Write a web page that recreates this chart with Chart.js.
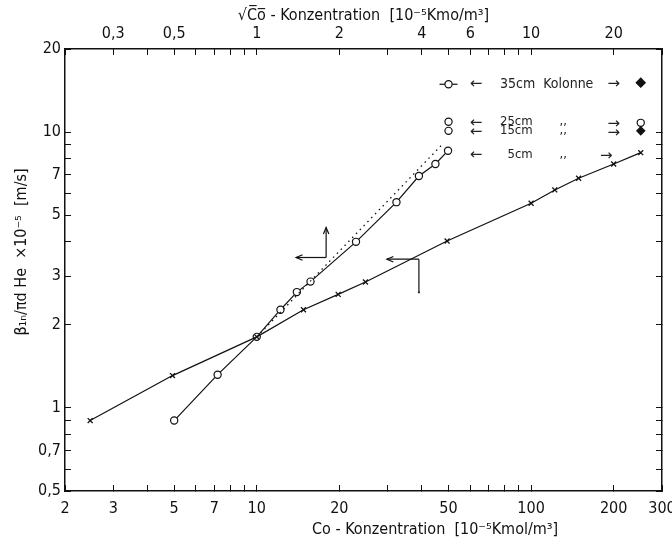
<!DOCTYPE html>
<html>
<head>
<meta charset="utf-8">
<script src="https://cdn.jsdelivr.net/npm/chart.js@4"></script>
<style>
  html, body { margin: 0; padding: 0; background: #fff; }
  #chart { display: block; }
</style>
</head>
<body>
<canvas id="chart" width="672" height="544"></canvas>
<script>
// values (Co concentration vs. rate)
const circleConc = [5, 7.2, 10, 12.2, 14, 15.7, 23, 32.3, 39, 44.8, 49.8];
const circleRate = [0.9, 1.32, 1.81, 2.27, 2.63, 2.87, 4.0, 5.57, 6.93, 7.66, 8.56];

const crossConc = [2.47, 4.93, 10, 14.8, 19.8, 24.9, 49.4, 100, 122, 149, 200, 251];
const crossRate = [0.9, 1.31, 1.81, 2.27, 2.58, 2.86, 4.03, 5.52, 6.17, 6.8, 7.66, 8.42];

const dottedConc = [10, 48];
const dottedRate = [1.81, 9.13];

// key symbols (35 / 25 / 15 cm) left and right of the column labels
const keyLeftConc = [50, 50, 50];
const keyLeftRate = [14.9, 10.9, 10.1];
const keyRightConc = [251, 251, 251];
const keyRightRate = [15.1, 10.8, 10.1];

const columnLabels = ['35cm  Kolonne', '25cm', '15cm', '5cm'];

const xTickLabels = [2, 3, 5, 7, 10, 20, 50, 100, 200, 300];
const x2TickLabels = [0.3, 0.5, 1, 2, 4, 6, 10, 20];
const yTickLabels = [0.5, 0.7, 1, 2, 3, 5, 7, 10, 20];

const xTitle = 'Co - Konzentration  [10\u207B\u2075Kmol/m\u00B3]';
const x2Title = '\u221AC\u0305o\u0305 - Konzentration  [10\u207B\u2075Kmo/m\u00B3]';
const yTitle = '\u03B2\u2081\u2099/\u03C0d He  \u00D710\u207B\u2075  [m/s]';

const FONT = "'Liberation Sans Narrow', 'DejaVu Sans Condensed', sans-serif";
const INK = '#111';

function fmt(v) { return String(v).replace('.', ','); }
function hasLabel(list, v) { return list.some(l => Math.abs(l - v) < 1e-6 * l); }
function logTicks(min, max) {
    let out = [];
    for (let e = -2; e <= 3; e++) {
        for (let m = 1; m <= 9; m++) {
            let v = +(m * Math.pow(10, e)).toPrecision(6);
            if (v >= min - 1e-9 && v <= max + 1e-9) out.push(v);
        }
    }
    return out;
}
function pts(xs, ys) { return xs.map((v, i) => ({x: v, y: ys[i]})); }

function logAxis(position, min, max, labels, size, pad) {
    let horiz = position === 'top' || position === 'bottom';
    return {
        type: 'logarithmic',
        position: position,
        min: min,
        max: max,
        afterBuildTicks: s => { s.ticks = logTicks(min, max).map(v => ({value: v})); },
        afterFit: s => {
            if (horiz) s.height = size; else s.width = size;
            // labels at the ends must not push the plot area in
            s.paddingLeft = s.paddingRight = s.paddingTop = s.paddingBottom = 0;
        },
        ticks: {
            autoSkip: false,
            maxRotation: 0,
            padding: pad,
            color: INK,
            font: {family: FONT, size: 16},
            callback: v => (labels && hasLabel(labels, v)) ? fmt(v) : ''
        },
        grid: {drawOnChartArea: false, tickLength: -6, color: INK, tickWidth: 1},
        border: {color: INK, width: 1.5}
    };
}

function arrow(ctx, x1, y1, x2, y2, head) {
    ctx.beginPath();
    ctx.moveTo(x1, y1);
    ctx.lineTo(x2, y2);
    ctx.stroke();
    if (!head) return;
    let a = Math.atan2(y2 - y1, x2 - x1);
    ctx.beginPath();
    ctx.moveTo(x2 - 7 * Math.cos(a - 0.4), y2 - 7 * Math.sin(a - 0.4));
    ctx.lineTo(x2, y2);
    ctx.lineTo(x2 - 7 * Math.cos(a + 0.4), y2 - 7 * Math.sin(a + 0.4));
    ctx.stroke();
}

const notes = {
    id: 'notes',
    beforeDatasetsDraw(chart) {
        const {ctx, scales: {x, y}} = chart;
        // dash through the 35cm key circle
        ctx.save();
        ctx.strokeStyle = INK;
        ctx.lineWidth = 1.2;
        let cx = x.getPixelForValue(keyLeftConc[0]), cy = y.getPixelForValue(keyLeftRate[0]);
        ctx.beginPath();
        ctx.moveTo(cx - 9, cy);
        ctx.lineTo(cx + 9, cy);
        ctx.stroke();
        ctx.restore();
    },
    afterDatasetsDraw(chart) {
        const {ctx, scales: {x, y}} = chart;
        const px = v => x.getPixelForValue(v), py = v => y.getPixelForValue(v);
        ctx.save();
        ctx.strokeStyle = INK;
        ctx.fillStyle = '#222';
        ctx.lineWidth = 1.2;

        // axis pointers on the two curves
        let ax = px(17.9), ay = py(3.51);
        arrow(ctx, ax, ay, ax - 30, ay, true);
        arrow(ctx, ax, ay, ax, ay - 30, true);
        let bx = px(39), by = py(3.46);
        arrow(ctx, bx, by, bx - 32, by, true);
        arrow(ctx, bx, by, bx, by + 32, false);
        ctx.fillRect(bx - 1, by + 32, 2, 2);

        // column labels with arrows
        const rowY = [14.9, 10.9, 10.1, 8.3];
        ctx.textBaseline = 'middle';
        columnLabels.forEach((lab, i) => {
            let yy = py(rowY[i]);
            ctx.font = '15px "DejaVu Sans"';
            ctx.textAlign = 'center';
            ctx.fillText('\u2190', px(63), yy + (i > 0 ? 1 : 0));
            ctx.fillText('\u2192', i === 3 ? px(188) : px(200), yy + (i > 0 ? 2 : 0));
            ctx.font = (i === 0 ? '14px ' : '13px ') + FONT;
            ctx.textAlign = 'left';
            ctx.fillText(lab, i === 3 ? px(82) : px(77), yy);
            if (i > 0) {
                ctx.textAlign = 'center';
                ctx.fillText(',,', px(131), yy);
            }
        });

        // axis titles that sit off-centre in the original
        ctx.fillStyle = INK;
        ctx.font = '16px ' + FONT;
        ctx.textAlign = 'left';
        ctx.fillText(xTitle, 312, 530);
        ctx.translate(22, 252);
        ctx.rotate(-Math.PI / 2);
        ctx.textAlign = 'center';
        ctx.fillText(yTitle, 0, 0);
        ctx.restore();
    }
};

let ctx = document.getElementById('chart');
let chart = new Chart(ctx, {
    type: 'scatter',
    data: {
        datasets: [
            {
                label: 'x',
                data: pts(crossConc, crossRate),
                showLine: true,
                borderColor: INK,
                borderWidth: 1.2,
                pointStyle: 'crossRot',
                pointRadius: 3.5,
                pointBorderWidth: 1.3,
                pointBorderColor: INK,
                xAxisID: 'x', yAxisID: 'y'
            },
            {
                label: 'dotted',
                data: pts(dottedConc, dottedRate),
                showLine: true,
                borderColor: INK,
                borderWidth: 1.3,
                borderDash: [1.5, 4],
                pointRadius: 0,
                xAxisID: 'x', yAxisID: 'y'
            },
            {
                label: 'o',
                data: pts(circleConc, circleRate),
                showLine: true,
                borderColor: INK,
                borderWidth: 1.2,
                pointStyle: 'circle',
                pointRadius: 3.6,
                pointBorderWidth: 1.2,
                pointBorderColor: INK,
                pointBackgroundColor: '#fff',
                xAxisID: 'x', yAxisID: 'y'
            },
            {
                label: 'key left',
                data: pts(keyLeftConc, keyLeftRate),
                showLine: false,
                pointStyle: 'circle',
                pointRadius: 3.6,
                pointBorderWidth: 1.2,
                pointBorderColor: INK,
                pointBackgroundColor: '#fff',
                xAxisID: 'x', yAxisID: 'y'
            },
            {
                label: 'key right',
                data: pts(keyRightConc, keyRightRate),
                showLine: false,
                pointStyle: ['rectRot', 'circle', 'rectRot'],
                pointRadius: [4.5, 3.6, 4],
                pointBorderWidth: 1.2,
                pointBorderColor: INK,
                pointBackgroundColor: [INK, '#fff', INK],
                xAxisID: 'x', yAxisID: 'y'
            }
        ]
    },
    options: {
        responsive: false,
        animation: false,
        devicePixelRatio: 1,
        layout: {padding: 0},
        plugins: {legend: {display: false}, tooltip: {enabled: false}},
        scales: {
            x: logAxis('bottom', 2, 300, xTickLabels, 53, 14),
            x2: Object.assign(logAxis('top', 0.2, 30, x2TickLabels, 49, 12), {
                title: {display: true, text: x2Title, color: INK, font: {family: FONT, size: 16}, padding: {top: 6, bottom: 0}}
            }),
            y: logAxis('left', 0.5, 20, yTickLabels, 65, 10),
            y2: logAxis('right', 0.5, 20, null, 10, 0)
        }
    },
    plugins: [notes]
});
</script>
</body>
</html>
